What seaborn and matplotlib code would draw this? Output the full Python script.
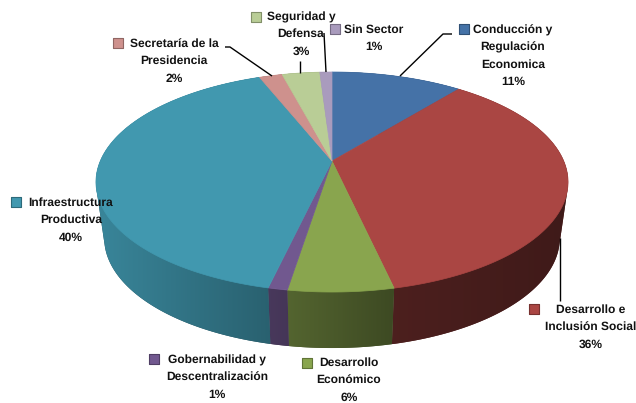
import numpy as np
import matplotlib
matplotlib.use("Agg")
import matplotlib.pyplot as plt
from matplotlib.patches import Polygon
import seaborn as sns

sectors = ["Conducción y\nRegulación\nEconomica", "Desarrollo e\nInclusión Social",
           "Desarrollo\nEconómico", "Gobernabilidad y\nDescentralización",
           "Infraestructura\nProductiva", "Secretaría de la\nPresidencia",
           "Seguridad y\nDefensa", "Sin Sector"]
values = [10.8, 35.7, 6.0, 1.1, 40.4, 1.9, 3.1, 1.0]
colors = ["#4572A7", "#AA4643", "#89A54E", "#71588F", "#4198AF", "#CE918D", "#B9CD96", "#A99BBD"]

sns.set_theme(style="white")
plt.rcParams["font.family"] = ["Liberation Sans", "DejaVu Sans"]
plt.rcParams["text.hinting"] = "no_hinting"
plt.rcParams["text.hinting_factor"] = 1

# perspective projection of the pie disc, in figure pixels
CX, CY, R, K, A = 332.0, 161.0, 231.7, 0.191, 106.0
DEPTH, SHRINK = 56.0, 0.965


def project(theta):
    x, y = np.sin(theta), np.cos(theta)
    d = 1 + K * y
    return R * x / d, A * y / d


def shade(X):
    return np.interp(X, [-236, -70, 60, 236], [0.88, 0.65, 0.45, 0.37])


def hull(points):
    pts = sorted(set(map(tuple, np.round(points, 3))))

    def half(seq):
        out = []
        for p in seq:
            while len(out) > 1 and ((out[-1][0] - out[-2][0]) * (p[1] - out[-2][1])
                                    - (out[-1][1] - out[-2][1]) * (p[0] - out[-2][0])) <= 0:
                out.pop()
            out.append(p)
        return out[:-1]

    return np.array(half(pts) + half(pts[::-1]))


fig, ax = plt.subplots(figsize=(6.36, 4.03), dpi=100)
ax.set_position([0, 0, 1, 1])
ax.set_xlim(0, 636)
ax.set_ylim(403, 0)
ax.axis("off")

edges = np.concatenate([[0], np.cumsum(values)]) / sum(values) * 2 * np.pi
palette = sns.color_palette(colors)

# side wall: a horizontal gradient clipped to each wedge's swept rim
for i, col in enumerate(palette):
    th = np.linspace(edges[i], edges[i + 1], 300)
    X, Y = project(th)
    px = CX + np.r_[X, (X * SHRINK)[::-1]]
    py = CY + np.r_[-Y, (-Y + DEPTH)[::-1]]
    shape = hull(np.c_[px, py])
    clip = Polygon(shape, closed=True, facecolor=tuple(np.array(col) * 0.5),
                   edgecolor="none", zorder=2, transform=ax.transData)
    ax.add_patch(clip)
    gx = np.linspace(px.min(), px.max(), 256)
    grad = np.array(col)[None, None, :] * shade(gx - CX)[None, :, None]
    im = ax.imshow(grad, extent=(px.min(), px.max(), py.max(), py.min()), aspect="auto",
                   interpolation="bilinear", zorder=2.1)
    im.set_clip_path(clip)
ax.set_xlim(0, 636)
ax.set_ylim(403, 0)

# top surface
for i, col in enumerate(palette):
    th = np.linspace(edges[i], edges[i + 1], 200)
    X, Y = project(th)
    ax.fill(np.r_[CX, CX + X], np.r_[CY, CY - Y], facecolor=col, edgecolor=col, lw=0.5, zorder=3)

# leader lines
leaders = [([452, 443, 400], [34, 34, 76]),
           ([324, 326], [33, 72]),
           ([300, 300], [61, 73]),
           ([225, 230, 272], [47, 47, 76]),
           ([560, 560], [238, 301])]
for lx, ly in leaders:
    ax.plot(lx, ly, color="black", lw=1.0, zorder=4, solid_capstyle="butt")

# labels: centre x, top-line centre y, key x, key y
layout = [(513, 30, 464, 29), (591, 310, 534, 309), (349, 363, 307, 363),
          (217, 360, 154, 359), (71, 203, 16, 202), (174, 44, 118, 43),
          (301, 17, 256, 17), (374, 30, 335, 29)]
for name, v, col, (tx, ty, kx, ky) in zip(sectors, values, palette, layout):
    lines = name.split("\n") + [f"{v:.0f}%"]
    for n, line in enumerate(lines):
        ax.text(tx, ty + n * 17.2, line, ha="center", va="center", fontsize=8.6,
                fontweight="bold", color="#111111", zorder=5)
    ax.scatter([kx], [ky], marker="s", s=46, color=col,
               edgecolor=tuple(np.array(col) * 0.7), lw=0.8, zorder=5)

fig.savefig("out.png", dpi=100, facecolor="white")
